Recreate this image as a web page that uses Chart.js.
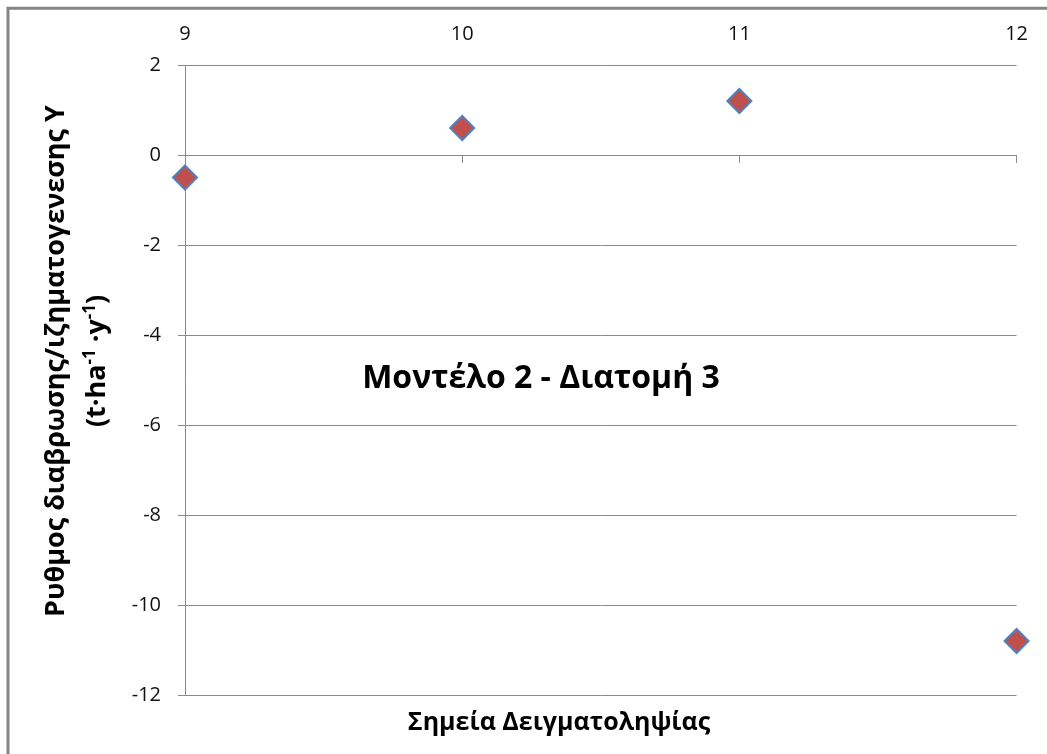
<!DOCTYPE html>
<html>
<head>
<meta charset="utf-8">
<script src="https://cdn.jsdelivr.net/npm/chart.js@4/dist/chart.umd.min.js"></script>
<style>
  html, body { margin: 0; padding: 0; background: #fff; overflow: hidden; }
  canvas { display: block; }
</style>
</head>
<body>
<canvas id="chart" width="1047" height="754"></canvas>
<script>
// Sampling points and the erosion/sedimentation rate measured at each
const samplePoints = [9, 10, 11, 12];
const rates = [-0.5, 0.6, 1.2, -10.8];

// Texts
const chartTitle = 'Μοντέλο 2 - Διατομή 3';
const xTitle = 'Σημεία Δειγματοληψίας';
const yTitleLine1 = 'Ρυθμος διαβρωσης/ιζηματογενεσης Υ';
// second line of the y title: [text, isSuperscript]
const yTitleLine2 = [['(t·ha', false], ['-1', true], [' ·y', false], ['-1', true], [')', false]];

const FONT = '"Open Sans", "Noto Sans", "DejaVu Sans", sans-serif';
const GRID = '#8a8a8a';
const TICK_TEXT = '#111';

// Frame, titles and the in-plot caption
const textLayer = {
  id: 'textLayer',
  beforeDraw(chart) {
    const { ctx, width, height } = chart;
    ctx.save();
    ctx.fillStyle = '#fff';
    ctx.fillRect(0, 0, width, height);
    ctx.strokeStyle = '#858585';
    ctx.lineWidth = 3;
    ctx.beginPath();
    ctx.moveTo(8, height);
    ctx.lineTo(8, 8.3);
    ctx.lineTo(width, 8.3);
    ctx.stroke();
    ctx.restore();
  },
  afterDraw(chart) {
    const { ctx, chartArea: a } = chart;
    ctx.save();
    ctx.fillStyle = '#000';
    ctx.textBaseline = 'alphabetic';
    ctx.textAlign = 'center';

    // caption inside the plot
    ctx.font = `bold 32px ${FONT}`;
    ctx.fillText(chartTitle, a.left + 356, a.top + 323);

    // x title under the plot
    ctx.font = `bold 25px ${FONT}`;
    ctx.fillText(xTitle, a.left + 374, a.bottom + 35);

    // y title, two rotated lines
    ctx.translate(0, 361);
    ctx.rotate(-Math.PI / 2);
    ctx.font = `bold 27px ${FONT}`;
    ctx.fillText(yTitleLine1, 0, 64);

    const base = 27, sup = 17, raise = 10;
    let total = 0;
    const widths = yTitleLine2.map(([t, s]) => {
      ctx.font = `bold ${s ? sup : base}px ${FONT}`;
      const w = ctx.measureText(t).width;
      total += w;
      return w;
    });
    ctx.textAlign = 'left';
    let x = -total / 2;
    yTitleLine2.forEach(([t, s], i) => {
      ctx.font = `bold ${s ? sup : base}px ${FONT}`;
      ctx.fillText(t, x, s ? 105 - raise : 105);
      x += widths[i];
    });
    ctx.restore();
  }
};

new Chart(document.getElementById('chart'), {
  type: 'scatter',
  data: {
    datasets: [{
      data: samplePoints.map((x, i) => ({ x, y: rates[i] })),
      pointStyle: 'rectRot',
      pointRadius: 12,
      pointHoverRadius: 12,
      backgroundColor: '#C0504D',
      borderColor: '#4F81BD',
      borderWidth: 2,
      clip: false
    }]
  },
  options: {
    responsive: false,
    animation: false,
    devicePixelRatio: 1,
    events: [],
    layout: { padding: { left: 0, right: 29, top: 0, bottom: 59 } },
    plugins: { legend: { display: false }, tooltip: { enabled: false } },
    scales: {
      x: {
        type: 'linear',
        position: 'top',
        min: 9,
        max: 12,
        ticks: { stepSize: 1, padding: 19, color: TICK_TEXT, font: { family: FONT, size: 20 } },
        grid: { display: false, drawTicks: false },
        border: { display: false },
        afterFit(s) { s.height = 65; }
      },
      xAxisLine: {
        type: 'linear',
        axis: 'x',
        position: { y: 0 },
        min: 9,
        max: 12,
        ticks: { display: false, stepSize: 1 },
        grid: { drawOnChartArea: false, drawTicks: true, tickLength: 7, color: GRID },
        border: { display: true, color: GRID, width: 1 }
      },
      y: {
        type: 'linear',
        position: 'left',
        min: -12,
        max: 2,
        ticks: { stepSize: 2, padding: 17, color: TICK_TEXT, font: { family: FONT, size: 20 } },
        grid: { color: GRID, tickLength: 7 },
        border: { color: GRID },
        afterFit(s) { s.width = 185; }
      }
    }
  },
  plugins: [textLayer]
});
</script>
</body>
</html>
